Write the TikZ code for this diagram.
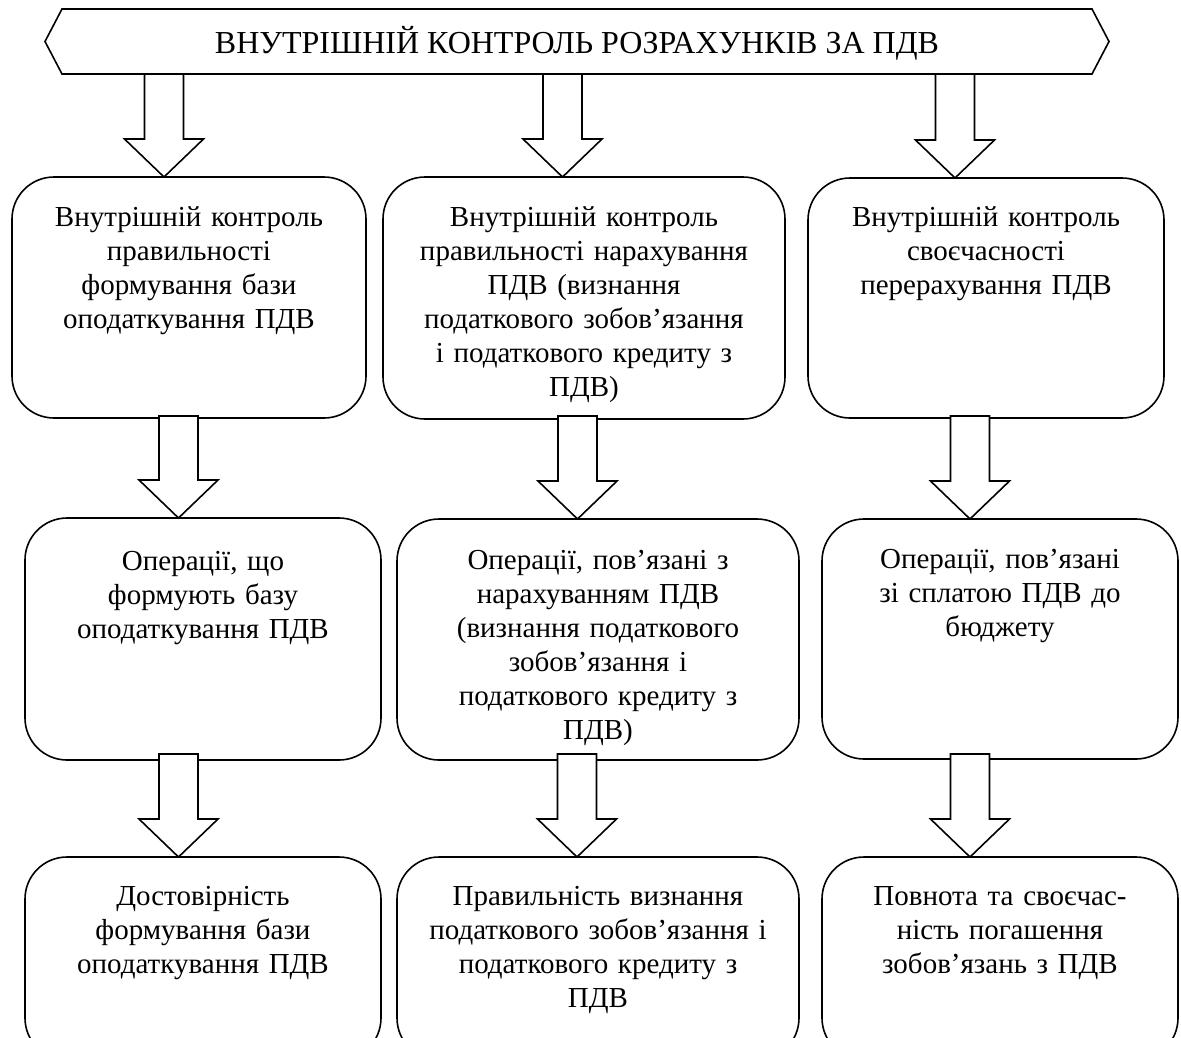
\documentclass[tikz,border=0pt]{standalone}
\usepackage{fontspec}
\setmainfont{Liberation Serif}
\usetikzlibrary{calc}
\tikzset{
  lw/.style={line width=1.6pt, line join=miter},
  boxnode/.style={lw, draw, rounded corners=42pt, inner sep=0pt, outer sep=0pt, anchor=north west},
  txt/.style={font=\fontsize{29pt}{34pt}\selectfont, align=center, inner sep=0pt, anchor=north,
    execute at begin node={\rule{0pt}{22pt}}},
  blk/.style={lw, draw, fill=white}
}
\newcommand\blockarrow[2]{%
  \coordinate (tip) at (#1 |- #2.north);
  \draw[blk] ([xshift=-19.5pt]#1) -- ([shift={(-19.5,-38)}]tip) -- ([shift={(-39.5,-38)}]tip) -- (tip)
    -- ([shift={(39.5,-38)}]tip) -- ([shift={(19.5,-38)}]tip) -- ([xshift=19.5pt]#1) -- cycle;}
\begin{document}
\begin{tikzpicture}[x=1pt,y=-1pt]
\useasboundingbox (0,0) rectangle (1181,1037);
\clip (0,0) rectangle (1181,1037);
% banner
\draw[lw] (62,9) -- (1092,9) -- (1109,41.5) -- (1092,74) -- (62,74) -- (45,41.5) -- cycle;
\node[font=\fontsize{32pt}{36pt}\selectfont, inner sep=0pt, anchor=base] (banner) at (577,53.5) {ВНУТРІШНІЙ КОНТРОЛЬ РОЗРАХУНКІВ ЗА ПДВ};
% boxes
\node[boxnode, minimum width=354pt, minimum height=241pt] (b11) at (12,177) {};
\node[boxnode, minimum width=402pt, minimum height=242pt] (b12) at (383,177) {};
\node[boxnode, minimum width=356pt, minimum height=240pt] (b13) at (808,178) {};
\node[boxnode, minimum width=356pt, minimum height=242pt] (b21) at (25,518) {};
\node[boxnode, minimum width=402pt, minimum height=241pt] (b22) at (397,519) {};
\node[boxnode, minimum width=356pt, minimum height=240pt] (b23) at (822,519) {};
\node[boxnode, minimum width=356pt, minimum height=203pt] (b31) at (25,857) {};
\node[boxnode, minimum width=402pt, minimum height=203pt] (b32) at (397,857) {};
\node[boxnode, minimum width=356pt, minimum height=203pt] (b33) at (822,857) {};
% texts
\node[txt, text width=340pt] (t11) at ([yshift=-27.5pt]b11.north) {Внутрішній контроль\\правильності\\формування бази\\оподаткування ПДВ};
\node[txt, text width=390pt] (t12) at ([yshift=-27.5pt]b12.north) {Внутрішній контроль\\правильності нарахування\\ПДВ (визнання\\податкового зобов’язання\\і податкового кредиту з\\ПДВ)};
\node[txt, text width=340pt] (t13) at ([yshift=-26.5pt]b13.north) {Внутрішній контроль\\своєчасності\\перерахування ПДВ};
\node[txt, text width=340pt] (t21) at ([yshift=-30pt]b21.north) {Операції, що\\формують базу\\оподаткування ПДВ};
\node[txt, text width=390pt] (t22) at ([yshift=-28pt]b22.north) {Операції, пов’язані з\\нарахуванням ПДВ\\(визнання податкового\\зобов’язання і\\податкового кредиту з\\ПДВ)};
\node[txt, text width=340pt] (t23) at ([yshift=-27pt]b23.north) {Операції, пов’язані\\зі сплатою ПДВ до\\бюджету};
\node[txt, text width=340pt] (t31) at ([yshift=-26pt]b31.north) {Достовірність\\формування бази\\оподаткування ПДВ};
\node[txt, text width=390pt] (t32) at ([yshift=-26pt]b32.north) {Правильність визнання\\податкового зобов’язання і\\податкового кредиту з\\ПДВ};
\node[txt, text width=340pt] (t33) at ([yshift=-26pt]b33.north) {Повнота та своєчас-\\ність погашення\\зобов’язань з ПДВ};
% arrow start coordinates
\coordinate (s11) at (164,74);
\coordinate (s12) at (562.5,74);
\coordinate (s13) at (955,74);
\coordinate (s21) at (178.5,416);
\coordinate (s22) at (577.5,416);
\coordinate (s23) at (970,416);
\coordinate (s31) at (178.5,754);
\coordinate (s32) at (577,754);
\coordinate (s33) at (970,754);
% arrows
\blockarrow{s11}{b11}
\blockarrow{s12}{b12}
\blockarrow{s13}{b13}
\blockarrow{s21}{b21}
\blockarrow{s22}{b22}
\blockarrow{s23}{b23}
\blockarrow{s31}{b31}
\blockarrow{s32}{b32}
\blockarrow{s33}{b33}
\end{tikzpicture}
\end{document}
